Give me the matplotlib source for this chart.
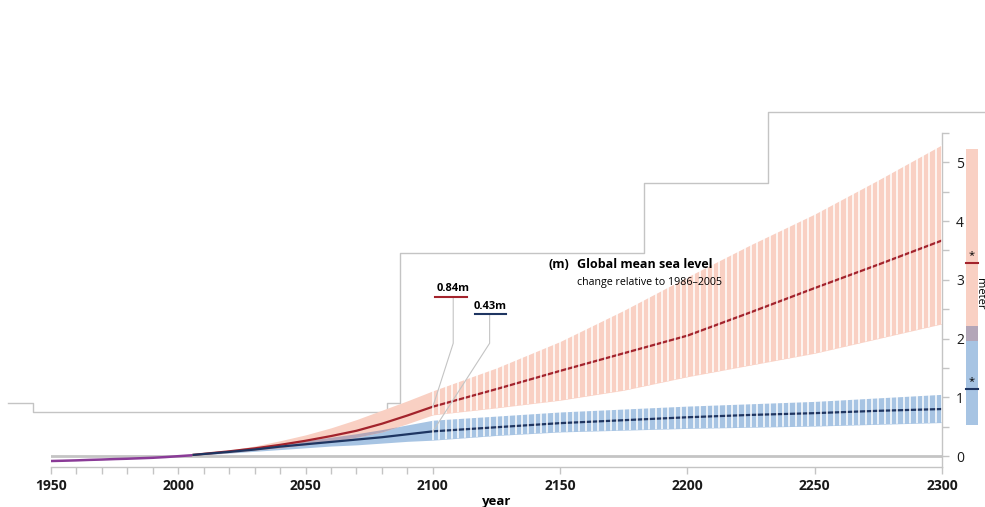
import numpy as np
import matplotlib
matplotlib.use('Agg')
import matplotlib.pyplot as plt
from matplotlib.lines import Line2D

plt.rcParams['font.family'] = ['Open Sans', 'DejaVu Sans']

# observed / historical
hist_years = [1950, 1955, 1960, 1965, 1970, 1975, 1980, 1985, 1990, 1995, 2000, 2005]
hist_sl = [-0.085, -0.080, -0.074, -0.066, -0.060, -0.052, -0.046, -0.038, -0.030, -0.018, -0.003, 0.012]

# projections
proj_years = [2006, 2020, 2030, 2040, 2050, 2060, 2070, 2080, 2090, 2100,
              2125, 2150, 2175, 2200, 2225, 2250, 2275, 2300]
rcp85_mean = [0.02, 0.08, 0.13, 0.19, 0.26, 0.34, 0.43, 0.55, 0.69, 0.84,
              1.14, 1.45, 1.75, 2.05, 2.45, 2.86, 3.26, 3.67]
rcp85_hi = [0.03, 0.10, 0.17, 0.26, 0.36, 0.48, 0.62, 0.78, 0.94, 1.11,
            1.50, 1.95, 2.48, 3.05, 3.60, 4.12, 4.70, 5.30]
rcp85_lo = [0.01, 0.06, 0.10, 0.14, 0.19, 0.25, 0.32, 0.41, 0.55, 0.70,
            0.82, 0.95, 1.12, 1.35, 1.55, 1.75, 2.00, 2.25]
rcp26_mean = [0.02, 0.07, 0.11, 0.16, 0.20, 0.24, 0.28, 0.32, 0.37, 0.42,
              0.49, 0.56, 0.61, 0.66, 0.70, 0.73, 0.77, 0.80]
rcp26_hi = [0.03, 0.09, 0.14, 0.20, 0.26, 0.32, 0.38, 0.45, 0.53, 0.61,
            0.68, 0.75, 0.80, 0.85, 0.89, 0.93, 0.99, 1.05]
rcp26_lo = [0.01, 0.05, 0.08, 0.11, 0.14, 0.17, 0.19, 0.22, 0.25, 0.27,
            0.35, 0.41, 0.44, 0.47, 0.49, 0.51, 0.54, 0.57]

# bars at the right (2300 ranges)
bar85 = [1.96, 5.22]
bar85_mean = 3.28
bar26 = [0.53, 2.21]
bar26_mean = 1.14

label85 = '0.84m'
label26 = '0.43m'

PINK = '#F9D0C3'
BLUE = '#A7C4E3'
OVER = '#B3A6B8'
RED = '#A3232C'
NAVY = '#1E3561'
GREY = '#C4C4C4'

fig = plt.figure(figsize=(9.85, 5.07), dpi=100)
ax = fig.add_axes([51 / 985, 40 / 507, 891 / 985, 334 / 507])
ax.set_facecolor('none')
ax.set_xlim(1950, 2300)
ax.set_ylim(-0.187, 5.5)

yrs = np.array(proj_years)
b26 = ax.fill_between(yrs, rcp26_lo, rcp26_hi, color=BLUE, lw=0, zorder=1)
b85 = ax.fill_between(yrs, rcp85_lo, rcp85_hi, color=PINK, lw=0, zorder=1.1)
olo = np.maximum(rcp85_lo, rcp26_lo)
ohi = np.minimum(rcp85_hi, rcp26_hi)
ax.fill_between(yrs, olo, ohi, where=ohi > olo, interpolate=True,
                color=OVER, lw=0, zorder=1.2)

ax.axhline(0, color=GREY, lw=2, zorder=1.5)
ax.plot(hist_years, hist_sl, color='#8A3B97', lw=1.8, zorder=2)
ax.plot(proj_years, rcp85_mean, color=RED, lw=1.6, zorder=2.1)
ax.plot(proj_years, rcp26_mean, color=NAVY, lw=1.6, zorder=2.2)

# white gaps that turn the post-2100 bands into bars
gaps = np.arange(2100, 2300.1, 2.5)
for band in (b26, b85):
    vl = ax.vlines(gaps, -1, 6, color='white', lw=1.1, zorder=3)
    vl.set_clip_path(band.get_paths()[0], ax.transData)

# leader labels
ax.text(2108, 2.86, label85, fontsize=8, fontweight='bold', ha='center', va='center', zorder=5)
ax.plot([2100.8, 2113.4], [2.70, 2.70], color=RED, lw=1.5, zorder=5)
ax.plot([2108, 2108, 2100], [2.70, 1.92, rcp85_mean[9]], color=GREY, lw=0.8, zorder=4)
ax.text(2122.6, 2.55, label26, fontsize=8, fontweight='bold', ha='center', va='center', zorder=5)
ax.plot([2116.5, 2128.7], [2.41, 2.41], color=NAVY, lw=1.5, zorder=5)
ax.plot([2122.3, 2122.3, 2100], [2.41, 1.92, rcp26_mean[9]], color=GREY, lw=0.8, zorder=4)

# title
ax.text(2145.5, 3.26, '(m)', fontsize=9, fontweight='bold', va='center', zorder=6)
ax.text(2156.8, 3.26, 'Global mean sea level', fontsize=9, fontweight='bold', va='center', zorder=6)
ax.text(2156.8, 2.95, 'change relative to 1986\u20132005', fontsize=7.7, va='center', zorder=6)

# right-hand range bars
bx, bw = 2311.8, 4.7
ax.bar(bx, bar85[1] - bar85[0], bottom=bar85[0], width=bw, color=PINK, clip_on=False)
ax.bar(bx, bar26[1] - bar26[0], bottom=bar26[0], width=bw, color=BLUE, clip_on=False)
ax.bar(bx, bar26[1] - bar85[0], bottom=bar85[0], width=bw, color=OVER, clip_on=False)
ax.plot([bx - bw / 2, bx + bw / 2], [bar85_mean] * 2, color=RED, lw=1.5, clip_on=False)
ax.plot([bx - bw / 2, bx + bw / 2], [bar26_mean] * 2, color=NAVY, lw=1.5, clip_on=False)
ax.text(bx, bar85_mean + 0.04, '*', fontsize=8, ha='center', va='bottom', clip_on=False)
ax.text(bx, bar26_mean + 0.04, '*', fontsize=8, ha='center', va='bottom', clip_on=False)
fig.text(974 / 985, 1 - 278 / 507, 'meter', fontsize=8, rotation=270, ha='left', va='top')

# axes styling
for s in ('left', 'top'):
    ax.spines[s].set_visible(False)
for s in ('right', 'bottom'):
    ax.spines[s].set_color(GREY)
    ax.spines[s].set_linewidth(1)
ax.yaxis.tick_right()
ax.set_yticks([0, 1, 2, 3, 4, 5])
ax.set_yticks(np.arange(0.5, 5.6, 1.0), minor=True)
ax.set_xticks(np.arange(1950, 2301, 50))
ax.set_xticks([1960, 1970, 1980, 1990, 2010, 2020, 2030, 2040, 2060, 2070, 2080, 2090], minor=True)
ax.tick_params(which='both', color=GREY, length=5, width=1)
ax.tick_params(axis='x', labelsize=10, pad=4, labelcolor='#1a1a1a')
ax.tick_params(axis='y', labelsize=10, pad=5, labelcolor='#1a1a1a')
for t in ax.get_xticklabels():
    t.set_fontweight('bold')
ax.set_xlabel('year', fontsize=9.5, fontweight='bold', labelpad=1)

# grey panel outline from the larger figure
px = [8, 33, 33, 387, 387, 400, 400, 644, 644, 768, 768, 985]
py = [403, 403, 412, 412, 403, 403, 253, 253, 183, 183, 112, 112]
fig.add_artist(Line2D([p / 985 for p in px], [1 - p / 507 for p in py],
                      transform=fig.transFigure, color=GREY, lw=1, zorder=0))

fig.savefig('out.png', dpi=100)
